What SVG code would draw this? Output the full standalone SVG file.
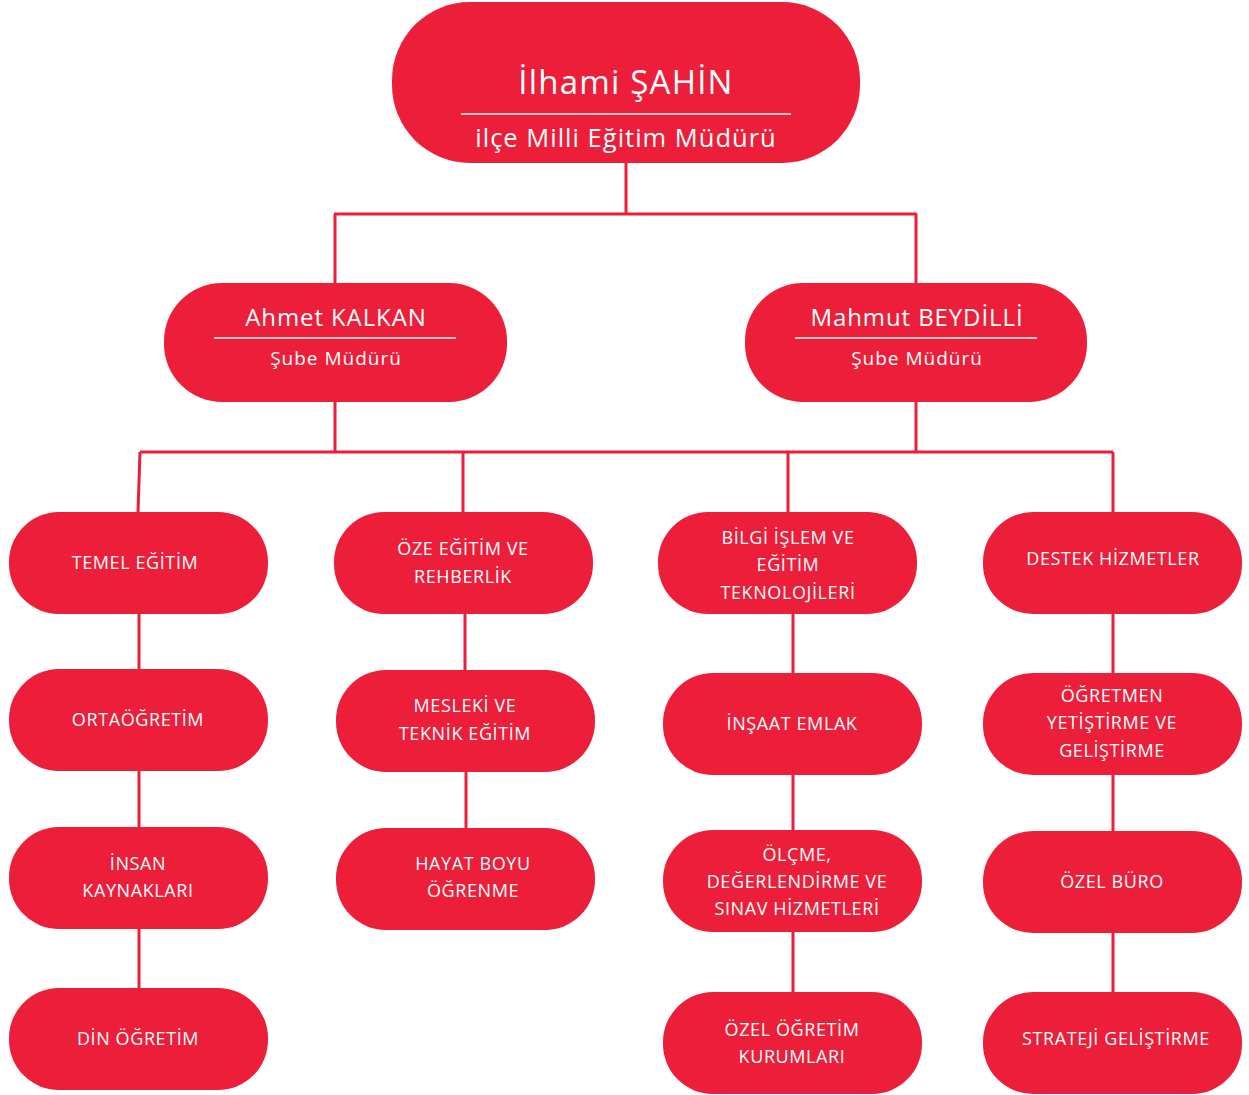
<svg xmlns="http://www.w3.org/2000/svg" width="1249" height="1095" viewBox="0 0 1249 1095">
<style>
.n{fill:#EC1E39}
.t{fill:#fff;font-family:"Open Sans","Liberation Sans",sans-serif;text-anchor:middle}
.b{font-size:18px;letter-spacing:0.6px}
.c{stroke:#EC1E39;stroke-width:3;fill:none}
.w{stroke:#fff;stroke-width:1.6}
</style>
<rect width="1249" height="1095" fill="#fff"/>
<g id="connectors" class="c">
<path d="M626 163V214M334 214H917M335 214V283M916 214V283"/>
<path d="M335 402V452M916 402V452M140 452H1113"/>
<path d="M140 452L138 512M463 452V512M788 452V512M1113 452V512"/>
<path d="M139 614V669M139 771V827M139 929V988"/>
<path d="M465 614V670M466 772V828"/>
<path d="M793 614V673M793 775V830M793 932V992"/>
<path d="M1113 614V673M1113 775V831M1113 933V992"/>
</g>
<g id="n-director">
<rect class="n" x="392" y="2" width="468" height="161" rx="78"/>
<text class="t" x="626" y="94" font-size="33" letter-spacing="1.2">İlhami ŞAHİN</text>
<line class="w" x1="461" y1="114" x2="791" y2="114"/>
<text class="t" x="626" y="147" font-size="25.5" letter-spacing="1">ilçe Milli Eğitim Müdürü</text>
</g>
<g id="n-ahmet">
<rect class="n" x="164" y="283" width="343" height="119" rx="58"/>
<text class="t" x="336" y="326" font-size="24" letter-spacing="0.9">Ahmet KALKAN</text>
<line class="w" x1="214" y1="338" x2="456" y2="338"/>
<text class="t" x="336" y="365" font-size="19" letter-spacing="1">Şube Müdürü</text>
</g>
<g id="n-mahmut">
<rect class="n" x="745" y="283" width="342" height="119" rx="58"/>
<text class="t" x="917" y="326" font-size="24" letter-spacing="0.9">Mahmut BEYDİLLİ</text>
<line class="w" x1="795" y1="338" x2="1037" y2="338"/>
<text class="t" x="917" y="365" font-size="19" letter-spacing="1">Şube Müdürü</text>
</g>
<g id="n-temel"><rect class="n" x="9" y="512" width="259" height="102" rx="50"/><text class="t b" x="135" y="569">TEMEL EĞİTİM</text></g>
<g id="n-oze"><rect class="n" x="334" y="512" width="259" height="102" rx="50"/><text class="t b" x="463" y="555">ÖZE EĞİTİM VE</text><text class="t b" x="463" y="583">REHBERLİK</text></g>
<g id="n-bilgi"><rect class="n" x="658" y="512" width="259" height="102" rx="50"/><text class="t b" x="788" y="544">BİLGİ İŞLEM VE</text><text class="t b" x="788" y="571">EĞİTİM</text><text class="t b" x="788" y="599">TEKNOLOJİLERİ</text></g>
<g id="n-destek"><rect class="n" x="983" y="512" width="259" height="102" rx="50"/><text class="t b" x="1113" y="565">DESTEK HİZMETLER</text></g>
<g id="n-orta"><rect class="n" x="9" y="669" width="259" height="102" rx="50"/><text class="t b" x="138" y="726">ORTAÖĞRETİM</text></g>
<g id="n-mesleki"><rect class="n" x="336" y="670" width="259" height="102" rx="50"/><text class="t b" x="465" y="712">MESLEKİ VE</text><text class="t b" x="465" y="740">TEKNİK EĞİTİM</text></g>
<g id="n-insaat"><rect class="n" x="663" y="673" width="259" height="102" rx="50"/><text class="t b" x="792" y="730">İNŞAAT EMLAK</text></g>
<g id="n-ogretmen"><rect class="n" x="983" y="673" width="259" height="102" rx="50"/><text class="t b" x="1112" y="702">ÖĞRETMEN</text><text class="t b" x="1112" y="729">YETİŞTİRME VE</text><text class="t b" x="1112" y="757">GELİŞTİRME</text></g>
<g id="n-insan"><rect class="n" x="9" y="827" width="259" height="102" rx="50"/><text class="t b" x="138" y="870">İNSAN</text><text class="t b" x="138" y="897">KAYNAKLARI</text></g>
<g id="n-hayat"><rect class="n" x="336" y="828" width="259" height="102" rx="50"/><text class="t b" x="473" y="870">HAYAT BOYU</text><text class="t b" x="473" y="897">ÖĞRENME</text></g>
<g id="n-olcme"><rect class="n" x="663" y="830" width="259" height="102" rx="50"/><text class="t b" x="797" y="861">ÖLÇME,</text><text class="t b" x="797" y="888">DEĞERLENDİRME VE</text><text class="t b" x="797" y="915">SINAV HİZMETLERİ</text></g>
<g id="n-ozelburo"><rect class="n" x="983" y="831" width="259" height="102" rx="50"/><text class="t b" x="1112" y="888">ÖZEL BÜRO</text></g>
<g id="n-din"><rect class="n" x="9" y="988" width="259" height="102" rx="50"/><text class="t b" x="138" y="1045">DİN ÖĞRETİM</text></g>
<g id="n-ozelogretim"><rect class="n" x="663" y="992" width="259" height="102" rx="50"/><text class="t b" x="792" y="1036">ÖZEL ÖĞRETİM</text><text class="t b" x="792" y="1063">KURUMLARI</text></g>
<g id="n-strateji"><rect class="n" x="983" y="992" width="259" height="102" rx="50"/><text class="t b" x="1116" y="1045">STRATEJİ GELİŞTİRME</text></g>
</svg>
